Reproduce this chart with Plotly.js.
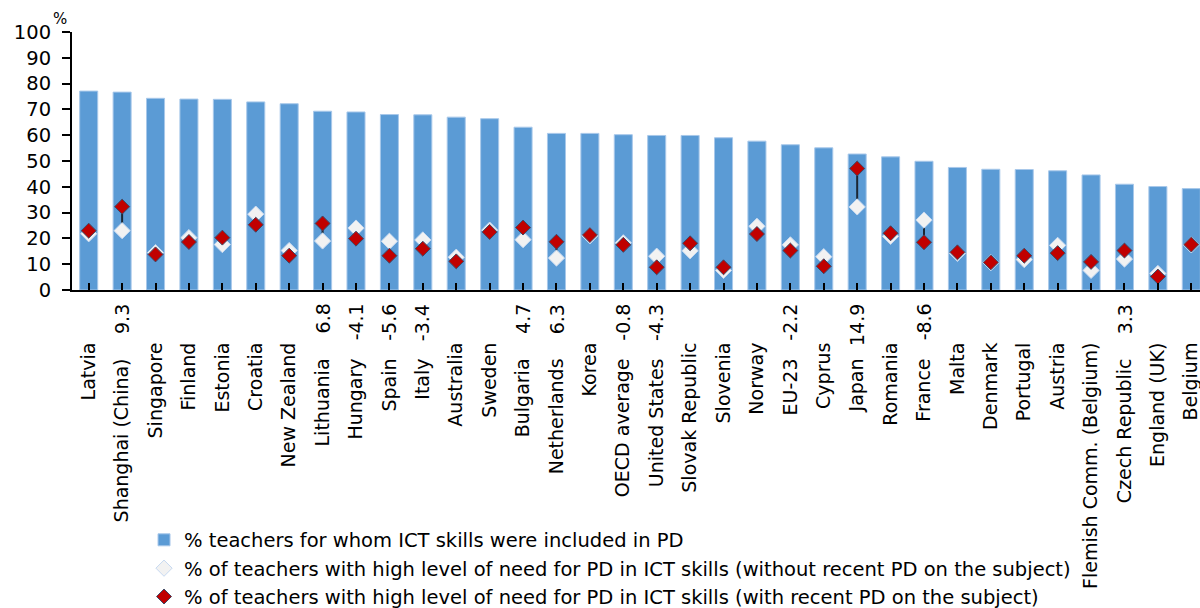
<!DOCTYPE html>
<html>
<head>
<meta charset="utf-8">
<script src="https://cdn.plot.ly/plotly-3.0.1.min.js"></script>
<style>
html, body { margin: 0; padding: 0; overflow: hidden; background: #ffffff; }
#chart { width: 1215px; height: 630px; }
</style>
</head>
<body>
<div id="chart"></div>
<script>
const categories = ["Latvia","Shanghai (China)","Singapore","Finland","Estonia","Croatia","New Zealand","Lithuania","Hungary","Spain","Italy","Australia","Sweden","Bulgaria","Netherlands","Korea","OECD average","United States","Slovak Republic","Slovenia","Norway","EU-23","Cyprus","Japan","Romania","France","Malta","Denmark","Portugal","Austria","Flemish Comm. (Belgium)","Czech Republic","England (UK)","Belgium"];

const ictIncluded = [77.1,76.7,74.3,74.0,73.9,72.9,72.2,69.3,69.0,68.0,67.9,67.0,66.4,63.1,60.7,60.7,60.2,59.9,59.9,59.0,57.7,56.3,55.1,52.7,51.6,49.9,47.5,46.8,46.7,46.2,44.6,41.0,40.1,39.3];

const needWithout = [21.8,23.0,14.5,20.3,17.6,29.4,15.3,19.0,24.0,18.9,19.4,12.7,23.2,19.5,12.4,21.0,18.3,13.1,15.2,7.6,24.7,17.5,12.9,32.2,20.8,27.1,14.2,10.6,11.8,17.3,7.6,12.0,6.4,17.5];

const needWith = [23.0,32.3,13.8,18.6,20.3,25.3,13.3,25.8,19.9,13.3,16.0,11.1,22.5,24.2,18.7,21.3,17.5,8.8,18.1,8.8,21.7,15.3,9.2,47.1,22.0,18.5,14.6,10.7,13.3,14.3,10.9,15.3,5.2,17.6];

const diffLabels = ["","9.3","","","","","","6.8","-4.1","-5.6","-3.4","","","4.7","6.3","","-0.8","-4.3","","","","-2.2","","14.9","","-8.6","","","","","","3.3","",""];

const yTickVals = [0,10,20,30,40,50,60,70,80,90,100];

const legendNames = [
  "% teachers for whom ICT skills were included in PD",
  "% of teachers with high level of need for PD in ICT skills (without recent PD on the subject)",
  "% of teachers with high level of need for PD in ICT skills (with recent PD on the subject)"
];

const FONT = "DejaVu Sans, sans-serif";
const idx = categories.map((c, i) => i);

// connector lines for labelled (significant) differences
const lx = [], ly = [];
diffLabels.forEach((d, i) => {
  if (d !== "") { lx.push(i, i, null); ly.push(needWithout[i], needWith[i], null); }
});

const tickText = categories.map((c, i) => diffLabels[i] !== "" ? c + "\u00a0\u00a0\u2009" : c);

const traces = [
  {
    type: "bar", x: idx, y: ictIncluded, name: legendNames[0],
    marker: { color: "#5B9BD5", line: { color: "#A8C8EA", width: 1 } },
    hoverinfo: "skip"
  },
  {
    type: "scatter", mode: "lines", x: lx, y: ly, showlegend: false,
    line: { color: "#1B2633", width: 2 }, hoverinfo: "skip"
  },
  {
    type: "scatter", mode: "markers", x: idx, y: needWithout, name: legendNames[1],
    marker: { symbol: "diamond", size: 12.5, color: "#F2F2F2", line: { color: "#C6D9F1", width: 1 } },
    hoverinfo: "skip"
  },
  {
    type: "scatter", mode: "markers", x: idx, y: needWith, name: legendNames[2],
    marker: { symbol: "diamond", size: 11.5, color: "#C00000", line: { color: "#3C4A66", width: 1 } },
    hoverinfo: "skip"
  }
];

const annotations = [];
diffLabels.forEach((d, i) => {
  if (d !== "") {
    annotations.push({
      x: i, xref: "x", y: -0.046, yref: "paper", yanchor: "top", xanchor: "center",
      text: d, textangle: -90, showarrow: false,
      font: { family: FONT, size: 19, color: "#000000" }
    });
  }
});
annotations.push({
  x: -0.018, xref: "paper", y: 1.052, yref: "paper", xanchor: "left", yanchor: "middle",
  text: "%", showarrow: false, borderpad: 0,
  font: { family: FONT, size: 15, color: "#000000" }
});

const layout = {
  width: 1215, height: 630,
  margin: { l: 72, r: 7, t: 32, b: 340, pad: 0, autoexpand: false },
  paper_bgcolor: "#ffffff", plot_bgcolor: "#ffffff",
  font: { family: FONT, size: 19, color: "#000000" },
  bargap: 0.46,
  showlegend: true,
  legend: {
    x: 0.0634, xanchor: "left", y: -0.894, yanchor: "top",
    orientation: "v", traceorder: "normal",
    font: { family: FONT, size: 19.5, color: "#000000" },
    bgcolor: "rgba(0,0,0,0)", borderwidth: 0
  },
  xaxis: {
    range: [-0.5, 33.5], tickmode: "array", tickvals: idx, ticktext: tickText,
    tickangle: -90, tickson: "boundaries", ticks: "inside", ticklen: 7, tickwidth: 2, tickcolor: "#000000",
    showline: true, linecolor: "#000000", linewidth: 2, showgrid: false, zeroline: false,
    ticklabelstandoff: 43,
    tickfont: { family: FONT, size: 19, color: "#000000" }, fixedrange: true
  },
  yaxis: {
    range: [0, 100], tickmode: "array", tickvals: yTickVals,
    ticks: "outside", ticklen: 8, tickwidth: 2, tickcolor: "#000000",
    showline: true, linecolor: "#000000", linewidth: 2, showgrid: false, zeroline: false,
    ticklabelstandoff: 7,
    tickfont: { family: FONT, size: 19.5, color: "#000000" }, fixedrange: true
  },
  annotations: annotations
};

Plotly.newPlot("chart", traces, layout, { displayModeBar: false, staticPlot: true });
</script>
</body>
</html>
